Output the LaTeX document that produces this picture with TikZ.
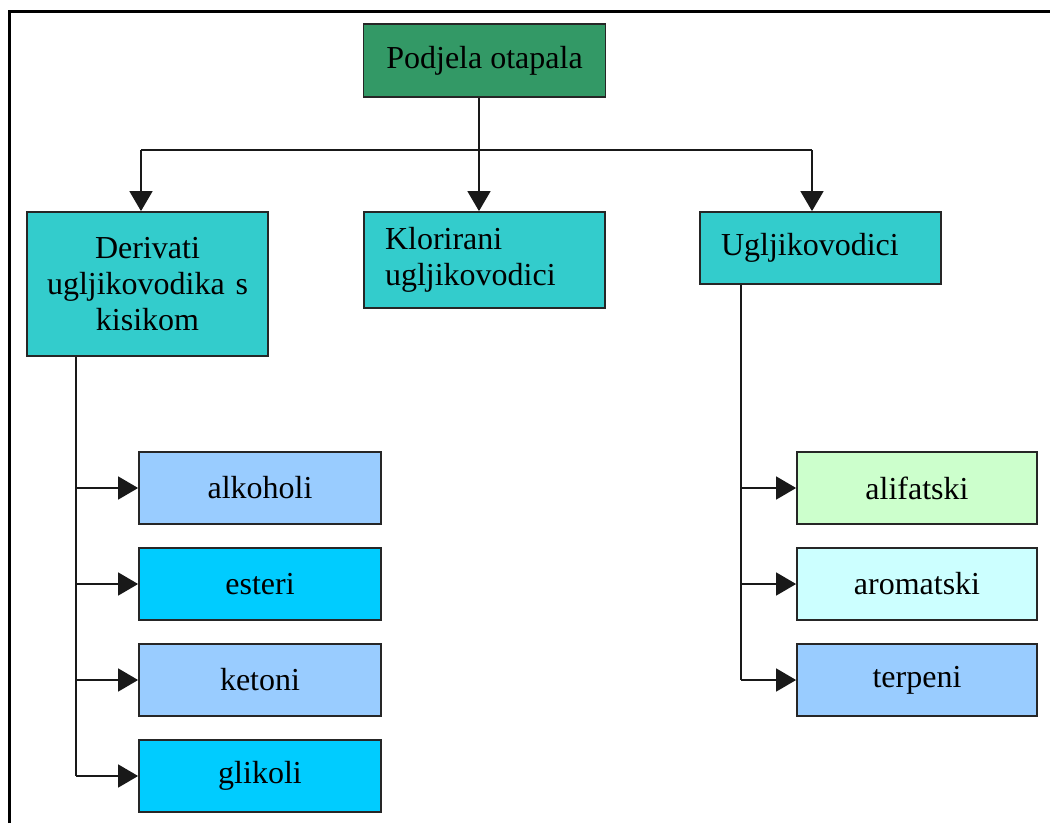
\documentclass[tikz,border=0pt]{standalone}
\usepackage{fontspec}
\setmainfont{Liberation Serif}
\usetikzlibrary{arrows.meta}

\definecolor{rootgreen}{HTML}{339966}
\definecolor{teal2}{HTML}{33CCCC}
\definecolor{paleblue}{HTML}{99CCFF}
\definecolor{skyblue}{HTML}{00CCFF}
\definecolor{palegreen}{HTML}{CCFFCC}
\definecolor{palecyan}{HTML}{CCFFFF}

\tikzset{
    box/.style = {draw=black!85, line width=1.8pt, rectangle, inner sep=0pt,
        font=\fontsize{32}{36}\selectfont},
    topbox/.style = {box, fill=rootgreen, minimum width=242pt, minimum height=73pt},
    midbox/.style = {box, fill=teal2, minimum width=241pt, text width=199pt},
    leafbox/.style = {box, minimum width=242pt, minimum height=72pt},
    conn/.style = {line width=1.6pt, black!90},
    arr/.style = {conn, -{Triangle[width=23pt, length=20pt]}}
}

\begin{document}
\begin{tikzpicture}[x=1pt, y=-1pt]
        \useasboundingbox (0, 0) rectangle (1050, 823);
        \draw[line width=3pt] (9, 823) -- (9, 11) -- (1050, 11);

        % top
        \node[topbox] (root) at (484.5, 60.5) {Podjela otapala};

        % second row
        \node[midbox, text width=229pt, minimum height=144pt, align=center] (der) at (147.5, 284)
            {Derivati\\ugljikovodika~s\\kisikom};
        \node[midbox, minimum height=96pt, align=left] (klor) at (484.5, 260)
            {Klorirani\\ugljikovodici};
        \node[midbox, minimum height=72pt, align=left] (uglj) at (820.5, 248)
            {Ugljikovodici};

        % left column
        \node[leafbox, fill=paleblue] (alk) at (260, 488) {alkoholi};
        \node[leafbox, fill=skyblue] (est) at (260, 584) {esteri};
        \node[leafbox, fill=paleblue] (ket) at (260, 680) {ketoni};
        \node[leafbox, fill=skyblue] (gli) at (260, 776) {glikoli};

        % right column
        \node[leafbox, fill=palegreen, minimum width=240pt] (alif) at (917, 488) {alifatski};
        \node[leafbox, fill=palecyan, minimum width=240pt] (arom) at (917, 584) {aromatski};
        \node[leafbox, fill=paleblue, minimum width=240pt] (terp) at (917, 680) {terpeni};

        % connectors
        \coordinate (busL) at (141, 150);
        \coordinate (busM) at (479, 150);
        \coordinate (busR) at (812, 150);
        \draw[conn] (root.south -| busM) -- (busM);
        \draw[conn] (busL) -- (busR);
        \foreach \c/\n in {busL/der, busM/klor, busR/uglj}
            \draw[arr] (\c) -- (\c |- \n.north);

        \coordinate (trL) at (76, 0);
        \draw[conn] (der.south -| trL) -- (trL |- gli.west);
        \foreach \n in {alk, est, ket, gli}
            \draw[arr] (trL |- \n.west) -- (\n.west);

        \coordinate (trR) at (741, 0);
        \draw[conn] (uglj.south -| trR) -- (trR |- terp.west);
        \foreach \n in {alif, arom, terp}
            \draw[arr] (trR |- \n.west) -- (\n.west);
    \end{tikzpicture}
\end{document}
